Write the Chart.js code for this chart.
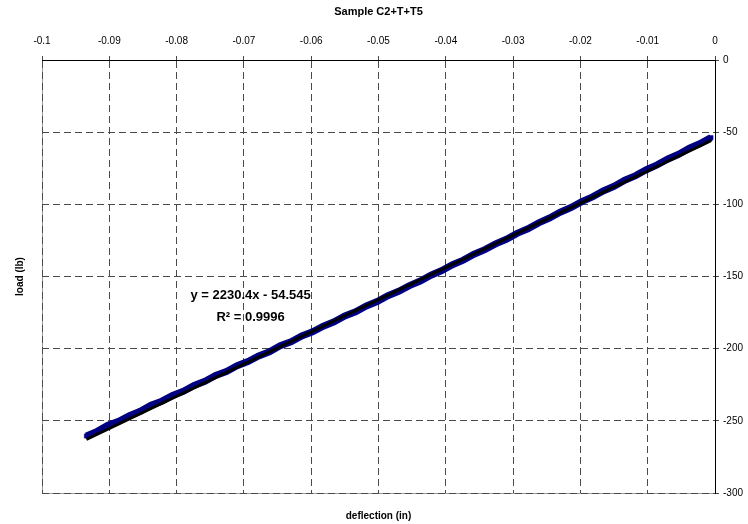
<!DOCTYPE html>
<html>
<head>
<meta charset="utf-8">
<title>Sample C2+T+T5</title>
<script src="https://cdn.jsdelivr.net/npm/chart.js@4/dist/chart.umd.min.js"></script>
<style>
  html, body { margin: 0; padding: 0; background: #fff; }
  #wrap { width: 748px; height: 524px; }
</style>
</head>
<body>
<div id="wrap"><canvas id="c" width="748" height="524"></canvas></div>
<script>
// Measured load vs. deflection for sample C2+T+T5
const deflection = [
  -0.0934, -0.0918, -0.0902, -0.0886, -0.0870, -0.0854, -0.0838, -0.0822, -0.0806, -0.0790,
  -0.0774, -0.0758, -0.0742, -0.0726, -0.0710, -0.0694, -0.0678, -0.0662, -0.0646, -0.0630,
  -0.0614, -0.0598, -0.0582, -0.0566, -0.0550, -0.0534, -0.0518, -0.0502, -0.0486, -0.0470,
  -0.0454, -0.0438, -0.0422, -0.0406, -0.0390, -0.0374, -0.0358, -0.0342, -0.0326, -0.0310,
  -0.0294, -0.0278, -0.0262, -0.0246, -0.0230, -0.0214, -0.0198, -0.0182, -0.0166, -0.0150,
  -0.0134, -0.0118, -0.0102, -0.0086, -0.0070, -0.0054, -0.0038, -0.0022, -0.0006
];
const load = [
  -260.5, -257.3, -253.1, -250.4, -246.4, -243.4, -239.2, -236.4, -232.4, -229.5,
  -225.5, -222.6, -218.6, -215.8, -211.8, -208.9, -205.0, -202.1, -198.0, -195.3,
  -191.2, -188.3, -184.4, -181.4, -177.3, -174.4, -170.4, -167.3, -163.3, -160.3,
  -156.3, -153.1, -149.1, -145.9, -141.8, -138.7, -134.6, -131.4, -127.4, -124.2,
  -120.1, -116.9, -112.8, -109.5, -105.5, -102.2, -98.1, -94.8, -90.7, -87.5,
  -83.3, -80.1, -76.0, -72.7, -68.6, -65.3, -61.1, -57.9, -53.8
];

// Linear trendline reported on the chart
const slope = 2230.4;
const intercept = -54.545;
const rSquared = 0.9996;
const trendX = [-0.0934, -0.0006];

// Axis ranges and tick steps
const xRange = [-0.1, 0];
const xStep = 0.01;
const yRange = [-300, 0];
const yStep = 50;

const chartTitle = 'Sample C2+T+T5';
const xTitle = 'deflection (in)';
const yTitle = 'load (lb)';

const FONT = '"Liberation Sans", Arial, Helvetica, sans-serif';

const points = deflection.map((x, i) => ({ x: x, y: load[i] }));
const trendPoints = trendX.map(x => ({ x: x, y: slope * x + intercept }));

// light frame around the plot area, under the grid
const plotFrame = {
  id: 'plotFrame',
  beforeDraw(chart) {
    const a = chart.chartArea, ctx = chart.ctx;
    ctx.save();
    ctx.strokeStyle = '#9a9a9a';
    ctx.lineWidth = 1;
    ctx.strokeRect(Math.round(a.left) + 0.5, Math.round(a.top) + 0.5,
                   Math.round(a.right - a.left), Math.round(a.bottom - a.top));
    ctx.restore();
  }
};

// regression equation and R² next to the line
const equationLabel = {
  id: 'equationLabel',
  afterDatasetsDraw(chart) {
    const ctx = chart.ctx;
    const px = chart.scales.x.getPixelForValue(-0.0690);
    const py = chart.scales.y.getPixelForValue(-163);
    ctx.save();
    ctx.fillStyle = '#000';
    ctx.font = 'bold 13px ' + FONT;
    ctx.textAlign = 'center';
    ctx.textBaseline = 'middle';
    ctx.fillText('y = ' + slope + 'x - ' + Math.abs(intercept), px, py);
    ctx.fillText('R\u00B2 = ' + rSquared, px, py + 22);
    ctx.restore();
  }
};

const hiddenAxis = (position, title, size, pad) => ({
  type: 'linear',
  position: position,
  display: true,
  ticks: { display: false },
  grid: { display: false, drawTicks: false },
  border: { display: false },
  title: {
    display: true,
    text: title,
    color: '#000',
    font: { family: FONT, size: 10, weight: 'bold' },
    padding: pad
  },
  afterFit(scale) {
    if (position === 'left' || position === 'right') scale.width = size;
    else scale.height = size;
  }
});

new Chart(document.getElementById('c'), {
  type: 'scatter',
  data: {
    datasets: [
      {
        label: 'Linear (load)',
        data: trendPoints,
        showLine: true,
        borderColor: '#000',
        borderWidth: 3,
        pointRadius: 0,
        order: 0
      },
      {
        label: 'load',
        data: points,
        showLine: true,
        borderColor: '#000080',
        borderWidth: 7,
        pointRadius: 3,
        pointStyle: 'rect',
        pointBackgroundColor: '#000080',
        pointBorderColor: '#0000a0',
        pointBorderWidth: 0.5,
        order: 1
      }
    ]
  },
  options: {
    responsive: false,
    animation: false,
    layout: { padding: 0 },
    plugins: {
      legend: { display: false },
      title: { display: false },
      tooltip: { enabled: false }
    },
    scales: {
      x: {
        type: 'linear',
        position: 'top',
        min: xRange[0],
        max: xRange[1],
        ticks: {
          stepSize: xStep,
          color: '#000',
          font: { family: FONT, size: 10 },
          padding: 9,
          maxRotation: 0,
          callback: v => String(+(+v).toFixed(2))
        },
        grid: {
          color: '#4a4a4a',
          lineWidth: 1,
          drawTicks: true,
          tickLength: 4
        },
        border: { display: true, color: '#000', width: 1, dash: [7, 4] },
        title: {
          display: true,
          text: chartTitle,
          color: '#000',
          font: { family: FONT, size: 11, weight: 'bold' },
          padding: { top: 5, bottom: 10 }
        },
        afterFit(scale) { scale.height = 60; }
      },
      y: {
        type: 'linear',
        position: 'right',
        min: yRange[0],
        max: yRange[1],
        ticks: {
          stepSize: yStep,
          color: '#000',
          font: { family: FONT, size: 10 },
          padding: 4
        },
        grid: {
          color: '#4a4a4a',
          lineWidth: 1,
          drawTicks: true,
          tickLength: 4
        },
        border: { display: true, color: '#000', width: 1, dash: [7, 4] },
        afterFit(scale) { scale.width = 33; }
      },
      x2: hiddenAxis('bottom', xTitle, 31, { top: 0, bottom: 2 }),
      y2: hiddenAxis('left', yTitle, 42, { top: 14, bottom: 0 })
    }
  },
  plugins: [plotFrame, equationLabel]
});
</script>
</body>
</html>
